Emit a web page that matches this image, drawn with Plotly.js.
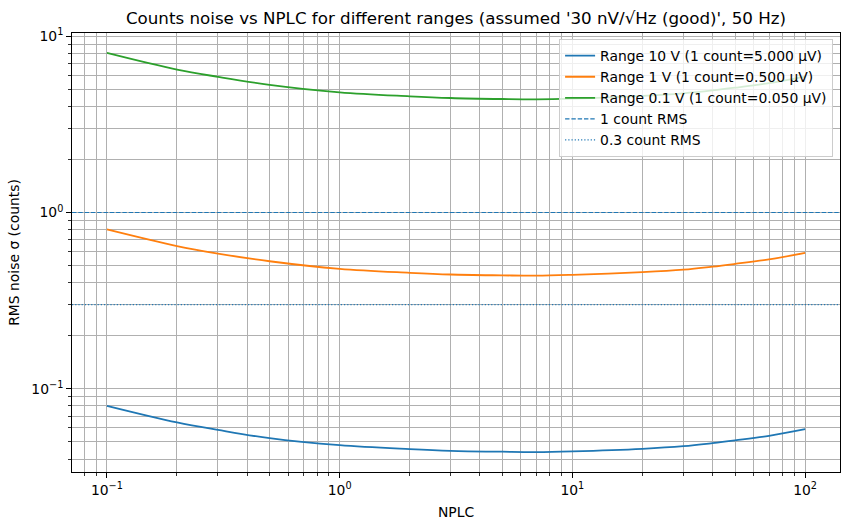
<!DOCTYPE html>
<html>
<head>
<meta charset="utf-8">
<script src="https://cdn.plot.ly/plotly-3.0.1.min.js"></script>
<style>html,body{margin:0;padding:0;background:#fff;}#chart{width:849px;height:530px;}</style>
</head>
<body>
<div id="chart"></div>
<script>
// ---- data ----
const nplc = [0.1, 0.2, 0.3, 0.5, 1, 2, 3, 5, 7, 10, 20, 30, 40, 50, 70, 100];
const range10V = [0.0801, 0.0645, 0.0585, 0.0525, 0.0479, 0.0455, 0.0445, 0.0440, 0.0438, 0.0442, 0.0457, 0.0473, 0.0492, 0.0510, 0.0541, 0.0590];
const range1V = [0.801, 0.645, 0.585, 0.529, 0.479, 0.455, 0.445, 0.440, 0.438, 0.443, 0.459, 0.474, 0.493, 0.511, 0.542, 0.590];
const range01V = [8.03, 6.46, 5.88, 5.30, 4.80, 4.56, 4.46, 4.40, 4.38, 4.42, 4.58, 4.74, 4.92, 5.10, 5.42, 5.90];
const seriesNames = ["Range 10 V (1 count=5.000 µV)", "Range 1 V (1 count=0.500 µV)", "Range 0.1 V (1 count=0.050 µV)"];
const refLevels = [1, 0.3];
const refNames = ["1 count RMS", "0.3 count RMS"];
const xTickVals = [0.1, 1, 10, 100];
const xTickText = ["10<sup>−1</sup>", "10<sup>0</sup>", "10<sup>1</sup>", "10<sup>2</sup>"];
const yTickVals = [0.1, 1, 10];
const yTickText = ["10<sup>−1</sup>", "10<sup>0</sup>", "10<sup>1</sup>"];
const titleText = "Counts noise vs NPLC for different ranges (assumed '30 nV/√Hz (good)', 50 Hz)";

// ---- styling ----
const colors = ["#1f77b4", "#ff7f0e", "#2ca02c"];
const FONT = "DejaVu Sans, sans-serif";
const FS = 13.9;
const grid = "#b0b0b0";

function minorVals(lo, hi) {
  const v = [];
  for (let e = lo; e <= hi; e++) for (let d = 2; d <= 9; d++) v.push(d * Math.pow(10, e));
  return v;
}
function autoLogRange(vals) {
  const l = vals.map(v => Math.log10(v));
  const mn = Math.min(...l), mx = Math.max(...l), m = (mx - mn) * 0.05;
  return [mn - m, mx + m];
}

const allY = range10V.concat(range1V, range01V);
const traces = [range10V, range1V, range01V].map((ys, i) => ({
  x: nplc, y: ys, type: "scatter", mode: "lines", name: seriesNames[i],
  line: {color: colors[i], width: 1.8, shape: "spline", smoothing: 1}
}));

const dashes = ["4.4px,1.9px", "1.2px,2px"];
const shapes = refLevels.map((lv, i) => ({
  type: "line", xref: "paper", x0: 0, x1: 1, yref: "y", y0: lv, y1: lv,
  line: {color: colors[0], width: 1.2, dash: dashes[i]},
  showlegend: true, name: refNames[i], layer: "above"
}));

const axisCommon = {
  type: "log", showline: true, mirror: true, linecolor: "#000", linewidth: 1,
  ticks: "outside", ticklen: 4.9, tickwidth: 1, tickcolor: "#000",
  showgrid: true, gridcolor: grid, gridwidth: 1, zeroline: false,
  tickmode: "array", tickfont: {family: FONT, size: FS, color: "#000"}
};

const layout = {
  width: 849, height: 530,
  paper_bgcolor: "#fff", plot_bgcolor: "#fff",
  margin: {l: 72, r: 9, t: 33, b: 58},
  font: {family: FONT, size: FS, color: "#000"},
  title: {text: titleText, font: {family: FONT, size: 16.7, color: "#000"},
          xref: "paper", x: 0.5, xanchor: "center", yref: "container", y: 1 - 18 / 530, yanchor: "middle"},
  xaxis: Object.assign({}, axisCommon, {
    range: [-1.15, 2.15], tickvals: xTickVals, ticktext: xTickText,
    minor: {tickmode: "array", tickvals: minorVals(-2, 2), ticks: "outside", ticklen: 2.8, tickwidth: 0.8, tickcolor: "#000", showgrid: true, gridcolor: grid, gridwidth: 1},
    title: {text: "NPLC", font: {family: FONT, size: FS, color: "#000"}, standoff: 10}
  }),
  yaxis: Object.assign({}, axisCommon, {
    range: autoLogRange(allY), tickvals: yTickVals, ticktext: yTickText,
    minor: {tickmode: "array", tickvals: minorVals(-2, 1), ticks: "outside", ticklen: 2.8, tickwidth: 0.8, tickcolor: "#000", showgrid: true, gridcolor: grid, gridwidth: 1},
    title: {text: "RMS noise σ (counts)", font: {family: FONT, size: FS, color: "#000"}, standoff: 8}
  }),
  showlegend: true,
  legend: {x: 0.991, xanchor: "right", y: 0.986, yanchor: "top",
           bgcolor: "rgba(255,255,255,0.8)", bordercolor: "#cccccc", borderwidth: 1,
           font: {family: FONT, size: FS, color: "#000"}, tracegroupgap: 0,
           itemwidth: 30},
  shapes: shapes
};

Plotly.newPlot("chart", traces, layout, {displayModeBar: false, staticPlot: true});
</script>
</body>
</html>
